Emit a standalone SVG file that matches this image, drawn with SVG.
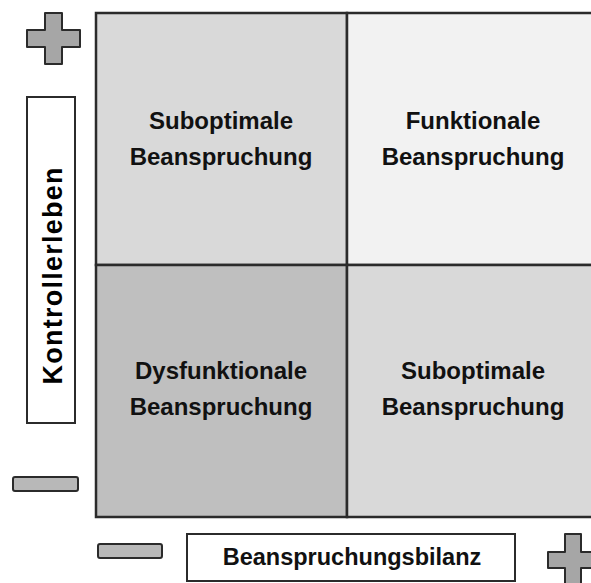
<svg xmlns="http://www.w3.org/2000/svg" width="591" height="583" viewBox="0 0 591 583">
<style>
.cell{stroke:#2b2b2b;stroke-width:2.5}
.lbl{font-family:"Liberation Sans",Arial,sans-serif;font-weight:bold;font-size:24px;fill:#111;text-anchor:middle}
.sign{fill:#a6a6a6;stroke:#2b2b2b;stroke-width:2;stroke-linejoin:round}
.minus{fill:#b8b8b8;stroke:#2b2b2b;stroke-width:2}
.box{fill:#fff;stroke:#2b2b2b;stroke-width:2}
</style>
<rect width="591" height="583" fill="#fff"/>
<g id="cell-tl"><rect class="cell" x="96" y="13" width="251" height="252" fill="#d9d9d9"/>
<text class="lbl" x="221" y="129">Suboptimale</text><text class="lbl" x="221" y="165">Beanspruchung</text></g>
<g id="cell-tr"><rect class="cell" x="347" y="13" width="260" height="252" fill="#f2f2f2"/>
<text class="lbl" x="473" y="129">Funktionale</text><text class="lbl" x="473" y="165">Beanspruchung</text></g>
<g id="cell-bl"><rect class="cell" x="96" y="265" width="251" height="252" fill="#bfbfbf"/>
<text class="lbl" x="221" y="379">Dysfunktionale</text><text class="lbl" x="221" y="415">Beanspruchung</text></g>
<g id="cell-br"><rect class="cell" x="347" y="265" width="260" height="252" fill="#d9d9d9"/>
<text class="lbl" x="473" y="379">Suboptimale</text><text class="lbl" x="473" y="415">Beanspruchung</text></g>
<g id="plus-top"><path class="sign" d="M45,13 H62 V30 H80 V47 H62 V64 H45 V47 H27 V30 H45 Z"/></g>
<g id="axis-y"><rect class="box" x="27" y="97" width="48" height="326"/>
<text class="lbl" transform="translate(62,276) rotate(-90)" x="0" y="0" style="font-size:27px;fill:#000" textLength="217" lengthAdjust="spacing">Kontrollerleben</text></g>
<g id="minus-left"><rect class="minus" x="13" y="477" width="65" height="14" rx="2"/></g>
<g id="minus-bottom"><rect class="minus" x="98" y="544" width="64" height="14" rx="2"/></g>
<g id="axis-x"><rect class="box" x="187" y="534" width="328" height="47"/>
<text class="lbl" x="352" y="565" style="font-size:23.5px">Beanspruchungsbilanz</text></g>
<g id="plus-right"><path class="sign" d="M565,534 H581 V552 H598 V568 H581 V585 H565 V568 H548 V552 H565 Z"/></g>
</svg>
